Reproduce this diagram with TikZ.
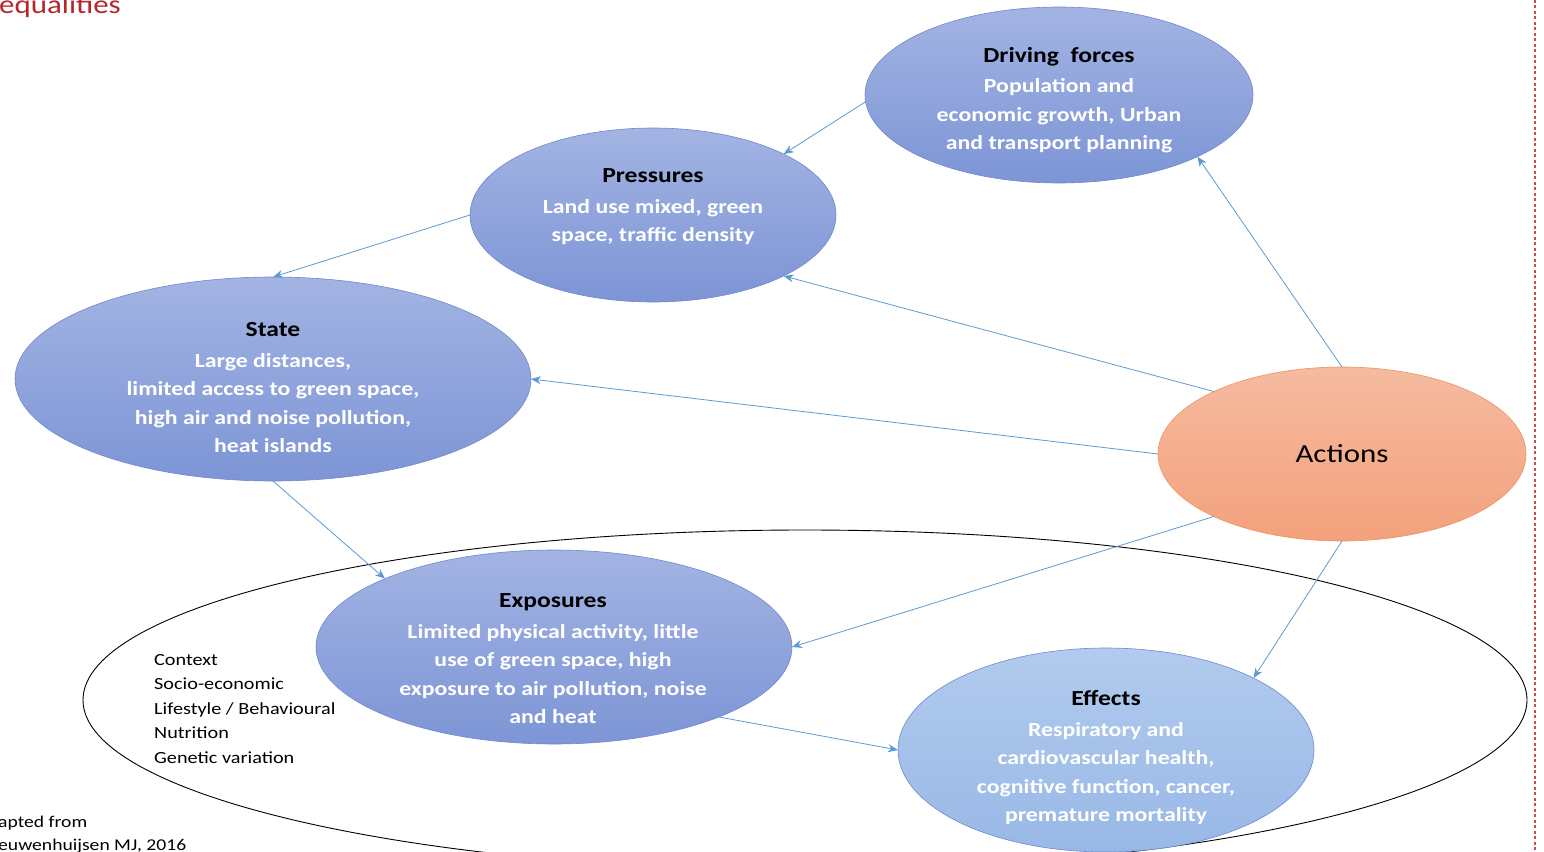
\documentclass[tikz,border=0pt]{standalone}
\usepackage{fontspec}
\setmainfont{Carlito}[FakeStretch=1.19]
\usetikzlibrary{shapes.geometric,arrows.meta}
\definecolor{bluetop}{HTML}{A3B4E3}
\definecolor{bluebot}{HTML}{7D95D6}
\definecolor{blueedge}{HTML}{7088CC}
\definecolor{efftop}{HTML}{B2CBEE}
\definecolor{effbot}{HTML}{98B8E6}
\definecolor{orangetop}{HTML}{F5BBA0}
\definecolor{orangebot}{HTML}{F4A17C}
\definecolor{orangeedge}{HTML}{EE925F}
\definecolor{arrowc}{HTML}{5B9BD5}
\definecolor{redtxt}{HTML}{B5262C}
\definecolor{dashred}{HTML}{C0504D}
\tikzset{
  blob/.style={ellipse, inner sep=0pt, outer sep=0pt, draw=blueedge, line width=0.6pt, top color=bluetop, bottom color=bluebot},
  effblob/.style={blob, top color=efftop, bottom color=effbot},
  actblob/.style={ellipse, inner sep=0pt, outer sep=0pt, draw=orangeedge, line width=0.6pt, top color=orangetop, bottom color=orangebot},
  lbl/.style={align=center, font=\fontsize{20}{28.5}\selectfont\bfseries, text=white, inner sep=0pt},
  conn/.style={draw=arrowc, line width=0.8pt, -{Stealth[length=10pt,width=8pt]}},
  ctx/.style={align=left, font=\fontsize{17}{24.5}\selectfont, inner sep=0pt, anchor=west}
}
\newcommand{\ttl}[1]{{\fontsize{21.5}{28}\selectfont\color{black}#1}\\[2pt]}
\begin{document}
\begin{tikzpicture}[x=1pt,y=-1pt]
\clip (0,0) rectangle (1544,851);
\fill[white] (0,0) rectangle (1544,851);
% big context ellipse
\draw[black, line width=0.9pt] (805,700) ellipse [x radius=722, y radius=170];
% red dashed border
\draw[dashred, dash pattern=on 3pt off 2.5pt, line width=1.1pt] (1535,0) -- (1535,851);
% ellipses
\node[blob, minimum width=388pt, minimum height=176pt] (df) at (1059,95) {};
\node[blob, minimum width=366pt, minimum height=174pt] (pr) at (653,215) {};
\node[blob, minimum width=516pt, minimum height=204pt] (st) at (273,379) {};
\node[blob, minimum width=476pt, minimum height=194pt] (ex) at (554,647) {};
\node[effblob, minimum width=416pt, minimum height=204pt] (ef) at (1106,750) {};
\node[actblob, minimum width=368pt, minimum height=174pt] (ac) at (1342,454) {};
% labels
\node[lbl] (dft) at (1059,100) {\ttl{Driving\ \ forces}Population and\\economic growth, Urban\\and transport planning};
\node[lbl] (prt) at (653,207) {\ttl{Pressures}Land use mixed, green\\space, traffic density};
\node[lbl] (stt) at (273,388) {\ttl{State}Large distances,\\limited access to green space,\\high air and noise pollution,\\heat islands};
\node[lbl] (ext) at (553,659) {\ttl{Exposures}Limited physical activity, little\\use of green space, high\\exposure to air pollution, noise\\and heat};
\node[lbl] (eft) at (1106,758) {\ttl{Effects}Respiratory and\\cardiovascular health,\\cognitive function, cancer,\\premature mortality};
\node[inner sep=0pt, font=\fontsize{26}{30}\selectfont] (act) at (1342,454) {Actions};
% context text
\node[ctx] (ctxt) at (154,709) {Context\\Socio-economic\\Lifestyle / Behavioural\\Nutrition\\Genetic variation};
\node[inner sep=0pt, anchor=base west, text=redtxt, font=\fontsize{26}{30}\selectfont] (ttl) at (-1,14) {equalities};
\node[ctx, font=\fontsize{16.5}{23}\selectfont] (src) at (-2,835) {apted from\\euwenhuijsen MJ, 2016};
% connectors
\draw[conn] (df.182) -- (pr.25);
\draw[conn] (pr.west) -- (st.north);
\draw[conn] (st.south) -- (ex.158);
\draw[conn] (ex.337) -- (ef.west);
\draw[conn] (ac.north) -- (df.336);
\draw[conn] (ac.154) -- (pr.335);
\draw[conn] (ac.west) -- (st.east);
\draw[conn] (ac.206) -- (ex.east);
\draw[conn] (ac.south) -- (ef.26);
\end{tikzpicture}
\end{document}
